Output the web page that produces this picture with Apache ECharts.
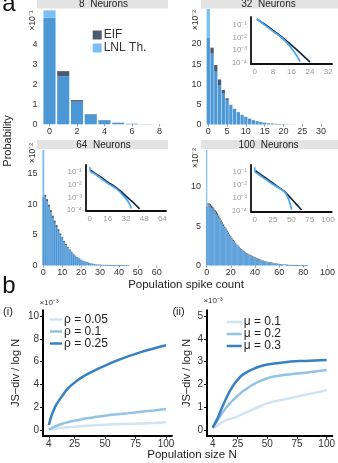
<!DOCTYPE html>
<html><head><meta charset="utf-8">
<script src="https://cdn.jsdelivr.net/npm/echarts@6/dist/echarts.min.js"></script>
<style>html,body{margin:0;padding:0;background:#fff}#c{width:338px;height:463px}</style>
</head><body><div id="c"></div>
<script>
// ---------- DATA ----------
// Panel a: histograms (probability, in units of the ×10^k shown on each axis)
const eif8  = [5.33, 2.66, 1.21, 0.51, 0.21, 0.08, 0.03, 0.01, 0.004];
const lnl8  = [5.7, 2.41, 1.13, 0.5, 0.2, 0.07, 0.03, 0.01, 0.004];
const eif32 = [21.5, 19.1, 14.8, 11.2, 8.6, 6.5, 4.9, 3.9, 3.1, 2.4, 1.9, 1.45, 1.1, 0.85, 0.62, 0.45, 0.33, 0.24, 0.17, 0.12, 0.08, 0.05, 0.03, 0.02, 0.01, 0.006, 0.004, 0.002, 0.001, 0.001, 0, 0, 0];
const lnl32 = [32, 17.6, 13.3, 9.8, 7.8, 6.1, 4.8, 3.85, 3.05, 2.35, 1.85, 1.4, 1.05, 0.78, 0.55, 0.38, 0.25, 0.16, 0.1, 0.06, 0.03, 0.015, 0.007, 0.003, 0.001, 0, 0, 0, 0, 0, 0, 0, 0];
const eif64 = [11.2, 11.5, 10.8, 9.9, 9.0, 8.1, 7.3, 6.6, 5.9, 5.2, 4.6, 4.0, 3.5, 3.0, 2.6, 2.25, 1.9, 1.6, 1.38, 1.17, 0.98, 0.83, 0.69, 0.57, 0.47, 0.38, 0.31, 0.25, 0.2, 0.16, 0.13, 0.1, 0.08, 0.06, 0.05, 0.04, 0.03, 0.022, 0.016, 0.012, 0.009, 0.006, 0.004, 0.003, 0.002, 0.001];
const lnl64 = [25, 11.15, 10.45, 9.55, 8.65, 7.75, 6.95, 6.25, 5.6, 4.95, 4.35, 3.78, 3.3, 2.82, 2.45, 2.15, 1.83, 1.55, 1.34, 1.13, 0.95, 0.8, 0.66, 0.54, 0.44, 0.35, 0.28, 0.22, 0.17, 0.13, 0.1, 0.075, 0.055, 0.04, 0.028, 0.019, 0.012, 0.008, 0.005, 0.003, 0.002, 0.001];
const eif100 = [7.5, 7.9, 7.9, 7.8, 7.6, 7.45, 7.25, 7.05, 6.85, 6.6, 6.3, 6.0, 5.75, 5.5, 5.2, 4.95, 4.7, 4.45, 4.2, 3.95, 3.72, 3.5, 3.28, 3.07, 2.88, 2.7, 2.53, 2.37, 2.22, 2.08, 1.95, 1.83, 1.71, 1.6, 1.52, 1.44, 1.36, 1.28, 1.2, 1.12, 1.04, 0.97, 0.91, 0.85, 0.79, 0.74, 0.68, 0.63, 0.58, 0.54, 0.5, 0.46, 0.43, 0.4, 0.37, 0.34, 0.31, 0.28, 0.26, 0.23, 0.21, 0.19, 0.17, 0.15, 0.13, 0.115, 0.1, 0.088, 0.075, 0.063, 0.052, 0.043, 0.035, 0.028, 0.022, 0.017, 0.013, 0.01, 0.007, 0.005, 0.004, 0.003, 0.002, 0.001];
const lnl100 = [22, 7.6, 7.6, 7.5, 7.3, 7.15, 6.95, 6.75, 6.55, 6.3, 6.0, 5.7, 5.45, 5.3, 5.0, 4.75, 4.5, 4.25, 4.0, 3.75, 3.52, 3.3, 3.1, 2.98, 2.8, 2.62, 2.46, 2.3, 2.15, 2.01, 1.88, 1.76, 1.64, 1.53, 1.44, 1.36, 1.27, 1.19, 1.11, 1.03, 0.96, 0.89, 0.83, 0.77, 0.71, 0.66, 0.6, 0.55, 0.51, 0.47, 0.43, 0.39, 0.36, 0.33, 0.3, 0.27, 0.24, 0.22, 0.19, 0.17, 0.15, 0.13, 0.11, 0.095, 0.08, 0.068, 0.057, 0.047, 0.039, 0.032, 0.026, 0.021, 0.016, 0.012, 0.009, 0.006, 0.004, 0.003, 0.002, 0.001];

// Insets: [spike count, log10 probability]
const insetEif32 = [[1,-0.54],[4,-0.9],[8,-1.42],[12,-1.98],[16,-2.6],[20,-3.25],[24,-3.94]];
const insetLnl32 = [[1,-0.52],[4,-0.95],[8,-1.5],[11,-1.9],[13,-2.22],[15,-2.62],[17,-3.1],[18.5,-3.5],[19.7,-3.9]];
const insetEif64 = [[1,-0.88],[8,-1.3],[16,-1.8],[24,-2.28],[32,-2.9],[38,-3.38],[44,-3.9]];
const insetLnl64 = [[0,-0.62],[1,-0.98],[4,-1.12],[8,-1.38],[16,-1.9],[24,-2.35],[28,-2.7],[32,-3.1],[35,-3.5],[36.8,-3.88]];
const insetEif100 = [[1,-0.88],[10,-1.25],[20,-1.65],[30,-2.06],[40,-2.46],[50,-3.05],[57,-3.48],[64,-3.92]];
const insetLnl100 = [[0,-0.62],[1,-1.0],[5,-1.15],[10,-1.35],[20,-1.75],[30,-2.12],[40,-2.48],[44,-2.8],[47,-3.2],[50.5,-3.9]];

// Panel b: JS-div / log N (×10^-3) vs population size N
const popN   = [4, 6, 8, 10, 15, 20, 25, 30, 40, 50, 60, 70, 80, 90, 100];
const rho005 = [0.0, 0.04, 0.08, 0.12, 0.2, 0.25, 0.29, 0.33, 0.4, 0.47, 0.51, 0.54, 0.58, 0.62, 0.67];
const rho010 = [0.05, 0.15, 0.25, 0.35, 0.55, 0.7, 0.82, 0.93, 1.1, 1.26, 1.38, 1.48, 1.6, 1.72, 1.85];
const rho025 = [0.44, 1.2, 1.75, 2.2, 3.0, 3.7, 4.15, 4.55, 5.15, 5.65, 6.1, 6.5, 6.85, 7.15, 7.43];
const mu01   = [0.05, 0.12, 0.2, 0.27, 0.43, 0.5, 0.6, 0.72, 0.95, 1.17, 1.3, 1.4, 1.52, 1.63, 1.75];
const mu02   = [0.1, 0.25, 0.42, 0.58, 0.95, 1.25, 1.5, 1.72, 2.05, 2.27, 2.38, 2.45, 2.5, 2.57, 2.63];
const mu03   = [0.1, 0.3, 0.5, 0.75, 1.35, 1.85, 2.2, 2.45, 2.72, 2.87, 2.94, 3.0, 3.03, 3.05, 3.07];

const nTicks = [4, 25, 50, 75, 100];
const yTicksI = [0, 2, 4, 6, 8, 10];
const yTicksII = [0, 1, 2, 3, 4, 5];
const logTicks = [-4, -3, -2, -1];

// ---------- STYLE ----------
const FONT = 'Liberation Sans, Arial, Helvetica, sans-serif';
const C_OV = '#4c97d6', C_EIF = '#4b5a6c', C_LNL = '#7ac0f5';
const C_IN_EIF = '#17283a', C_IN_LNL = '#4aa7ef';
const C_L1 = '#d0e4f3', C_L2 = '#93c3e4', C_L3 = '#3781c3';
const supDigits = '⁰¹²³⁴⁵⁶⁷⁸⁹';
const pow10 = v => '10' + String(v).replace('-', '⁻').replace(/\d/g, d => supDigits[d]);
const cats = n => Array.from({length: n + 1}, (_, i) => String(i));

const grids = [
  {left: 42.6, top: 9, width: 123.8, height: 115.3},
  {left: 206.4, top: 9, width: 124, height: 115.5},
  {left: 42.4, top: 150, width: 122.8, height: 115.5},
  {left: 206.1, top: 150, width: 123.8, height: 115.5},
  {left: 251, top: 17, width: 81, height: 47},
  {left: 86, top: 165, width: 80, height: 45.7},
  {left: 251, top: 165, width: 80.7, height: 46.7},
  {left: 43, top: 310.3, width: 128.9, height: 125.4},
  {left: 207, top: 310.3, width: 127, height: 125.4}
];

const hists = [
  {eif: eif8, lnl: lnl8, n: 8, lab: 1, max: 5.77, step: 1, lim: 4, gap: '12%'},
  {eif: eif32, lnl: lnl32, n: 32, lab: 4, max: 28.7, step: 5, lim: 20, gap: '12%'},
  {eif: eif64, lnl: lnl64, n: 64, lab: 9, max: 18.8, step: 5, lim: 15, width: '100%', seam: true},
  {eif: eif100, lnl: lnl100, n: 100, lab: 19, max: 14.66, step: 5, lim: 10, width: '100%', seam: true}
];

const xAxes = [], yAxes = [], series = [];
hists.forEach((h, k) => {
  xAxes.push({type: 'category', gridIndex: k, data: cats(h.n),
    axisLine: {show: false},
    axisTick: {show: true, alignWithLabel: true, interval: h.lab, length: 2, lineStyle: {color: '#999'}},
    axisLabel: {interval: h.lab, fontSize: 9, color: '#333', margin: 3, fontFamily: FONT}});
  yAxes.push({type: 'value', gridIndex: k, min: 0, max: h.max, interval: h.step,
    axisLine: {show: false}, axisTick: {show: false}, splitLine: {show: false},
    axisLabel: {fontSize: 9, color: '#333', margin: 5, fontFamily: FONT,
      formatter: v => (Math.abs(v / h.step - Math.round(v / h.step)) < 1e-6 && v <= h.lim + 1e-6) ? String(Math.round(v)) : ''}});
  const len = Math.max(h.eif.length, h.lnl.length);
  const both = [], eEx = [], lEx = [];
  for (let i = 0; i < len; i++) {
    const e = h.eif[i] || 0, l = h.lnl[i] || 0;
    both.push(Math.min(e, l)); eEx.push(Math.max(0, e - l)); lEx.push(Math.max(0, l - e));
  }
  const common = {type: 'bar', stack: 'h' + k, xAxisIndex: k, yAxisIndex: k, clip: true, silent: true};
  if (h.width) common.barWidth = h.width; else common.barCategoryGap = h.gap;
  const sty = c => h.seam ? {color: c, borderColor: c, borderWidth: 0.6} : {color: c};
  series.push({...common, name: 'both', data: both, itemStyle: sty(C_OV)});
  series.push({...common, name: 'EIF', data: eEx, itemStyle: {color: C_EIF}});
  series.push({...common, name: 'LNL Th.', data: lEx, itemStyle: {color: C_LNL}});
});

const insets = [
  {g: 4, xmin: -1.6, xmax: 33.6, ymin: -4.1, ymax: -0.36, ticks: [0, 8, 16, 24, 32], eif: insetEif32, lnl: insetLnl32},
  {g: 5, xmin: -3.2, xmax: 67.2, ymin: -4.05, ymax: -0.45, ticks: [0, 16, 32, 48, 64], eif: insetEif64, lnl: insetLnl64},
  {g: 6, xmin: -5, xmax: 105, ymin: -4.05, ymax: -0.44, ticks: [0, 25, 50, 75, 100], eif: insetEif100, lnl: insetLnl100}
];
insets.forEach(s => {
  xAxes.push({type: 'value', gridIndex: s.g, min: s.xmin, max: s.xmax,
    axisLine: {onZero: false, lineStyle: {color: '#111', width: 1.8}}, axisTick: {show: false}, splitLine: {show: false},
    axisLabel: {customValues: s.ticks, fontSize: 8, color: '#9a9a9a', margin: 4, fontFamily: FONT}});
  yAxes.push({type: 'value', gridIndex: s.g, min: s.ymin, max: s.ymax,
    axisLine: {onZero: false, lineStyle: {color: '#111', width: 1.8}}, axisTick: {show: false}, splitLine: {show: false},
    axisLabel: {customValues: logTicks, fontSize: 8, color: '#9a9a9a', margin: 4, fontFamily: FONT, formatter: v => pow10(v)}});
  const lc = {type: 'line', xAxisIndex: s.g, yAxisIndex: s.g, showSymbol: false, symbol: 'none', smooth: 0.3, silent: true};
  series.push({...lc, name: 'inEIF', data: s.eif, lineStyle: {color: C_IN_EIF, width: 1.7}, itemStyle: {color: C_IN_EIF}});
  series.push({...lc, name: 'inLNL', data: s.lnl, lineStyle: {color: C_IN_LNL, width: 1.7}, itemStyle: {color: C_IN_LNL}});
});

const bPanels = [
  {g: 7, ymin: -0.5, ymax: 10.5, yt: yTicksI, gap: 22,
   lines: [['ρ = 0.05', rho005, C_L1], ['ρ = 0.1', rho010, C_L2], ['ρ = 0.25', rho025, C_L3]]},
  {g: 8, ymin: -0.25, ymax: 5.25, yt: yTicksII, gap: 15,
   lines: [['μ = 0.1', mu01, C_L1], ['μ = 0.2', mu02, C_L2], ['μ = 0.3', mu03, C_L3]]}
];
bPanels.forEach(p => {
  xAxes.push({type: 'value', gridIndex: p.g, min: -0.8, max: 104.8,
    axisLine: {onZero: false, lineStyle: {color: '#000', width: 2}},
    axisTick: {customValues: nTicks, length: 3, lineStyle: {color: '#000', width: 1}}, splitLine: {show: false},
    axisLabel: {customValues: nTicks, fontSize: 10, color: '#333', margin: 4, fontFamily: FONT}});
  yAxes.push({type: 'value', gridIndex: p.g, min: p.ymin, max: p.ymax,
    name: 'JS−div / log N', nameLocation: 'middle', nameRotate: 90, nameGap: p.gap,
    nameTextStyle: {fontSize: 11, color: '#222', fontFamily: FONT},
    axisLine: {onZero: false, lineStyle: {color: '#000', width: 2}},
    axisTick: {customValues: p.yt, length: 3, lineStyle: {color: '#000', width: 1}}, splitLine: {show: false},
    axisLabel: {customValues: p.yt, fontSize: 10, color: '#333', margin: 4, fontFamily: FONT}});
  p.lines.forEach(([name, arr, col]) => {
    series.push({type: 'line', name, xAxisIndex: p.g, yAxisIndex: p.g, showSymbol: false, symbol: 'none', smooth: true,
      data: popN.map((n, i) => [n, arr[i]]), lineStyle: {color: col, width: 2.5}, itemStyle: {color: col}});
  });
});

const txt = (text, x, y, size, opts = {}) => ({type: 'text', x, y, rotation: opts.rot || 0, silent: true,
  style: {text, fill: opts.color || '#111', font: (opts.weight || 'normal') + ' ' + size + 'px ' + FONT,
    textAlign: opts.align || 'center', textVerticalAlign: 'middle'}});
const band = (x, y, w, h) => ({type: 'rect', shape: {x, y, width: w, height: h}, style: {fill: '#e3e3e3'}, silent: true, z: -1});

const graphic = [
  band(37, -1, 131, 9.5), band(201, -1, 137, 9.5), band(37, 140, 131, 9), band(201, 140, 137, 9),
  txt('8  Neurons', 103.5, 4.5, 10, {color: '#222'}),
  txt('32  Neurons', 268.5, 4.5, 10, {color: '#222'}),
  txt('64  Neurons', 103.5, 145, 10, {color: '#222'}),
  txt('100  Neurons', 268.5, 145, 10, {color: '#222'}),
  txt('×10⁻¹', 32.5, 20.5, 8.5, {rot: Math.PI / 2, color: '#333'}),
  txt('×10⁻²', 195.5, 20, 8.5, {rot: Math.PI / 2, color: '#333'}),
  txt('×10⁻²', 32.5, 153, 8.5, {rot: Math.PI / 2, color: '#333'}),
  txt('×10⁻²', 195.5, 158, 8.5, {rot: Math.PI / 2, color: '#333'}),
  txt('a', 9, 4.5, 24, {color: '#111'}),
  txt('b', 9, 286.5, 24, {color: '#111'}),
  txt('Probability', 8, 141, 11, {rot: Math.PI / 2, color: '#222'}),
  txt('Population spike count', 186, 285, 11.5, {color: '#222'}),
  txt('(i)', 8, 311.5, 11, {color: '#222'}),
  txt('(ii)', 178.5, 311.5, 11, {color: '#222'}),
  txt('×10⁻³', 49, 303, 8, {color: '#333'}),
  txt('×10⁻³', 213, 301, 8, {color: '#333'}),
  txt('Population size N', 192, 455, 11.5, {color: '#222'})
];

const legendBase = {orient: 'vertical', padding: 0, selectedMode: false, textStyle: {fontFamily: FONT, color: '#222'}};
const legend = [
  {...legendBase, data: ['EIF', 'LNL Th.'], left: 92.7, top: 29, icon: 'rect', itemWidth: 9, itemHeight: 9, itemGap: 1,
   textStyle: {fontFamily: FONT, color: '#333', fontSize: 12, lineHeight: 9, padding: [0, 0, 0, -3]}},
  {...legendBase, data: ['ρ = 0.05', 'ρ = 0.1', 'ρ = 0.25'], left: 50, top: 313.5, icon: 'rect', itemWidth: 12, itemHeight: 2.5, itemGap: 0,
   textStyle: {fontFamily: FONT, color: '#222', fontSize: 12, lineHeight: 10.8, padding: [0, 0, 0, -3]}},
  {...legendBase, data: ['μ = 0.1', 'μ = 0.2', 'μ = 0.3'], left: 226.7, top: 316, icon: 'rect', itemWidth: 15, itemHeight: 2.5, itemGap: 0,
   textStyle: {fontFamily: FONT, color: '#222', fontSize: 12, lineHeight: 11.2, padding: [0, 0, 0, -3]}}
];

const chart = echarts.init(document.getElementById('c'), null, {renderer: 'canvas', width: 338, height: 463});
chart.setOption({animation: false, backgroundColor: '#fff', textStyle: {fontFamily: FONT},
  grid: grids, xAxis: xAxes, yAxis: yAxes, series, legend, graphic});
</script></body></html>
